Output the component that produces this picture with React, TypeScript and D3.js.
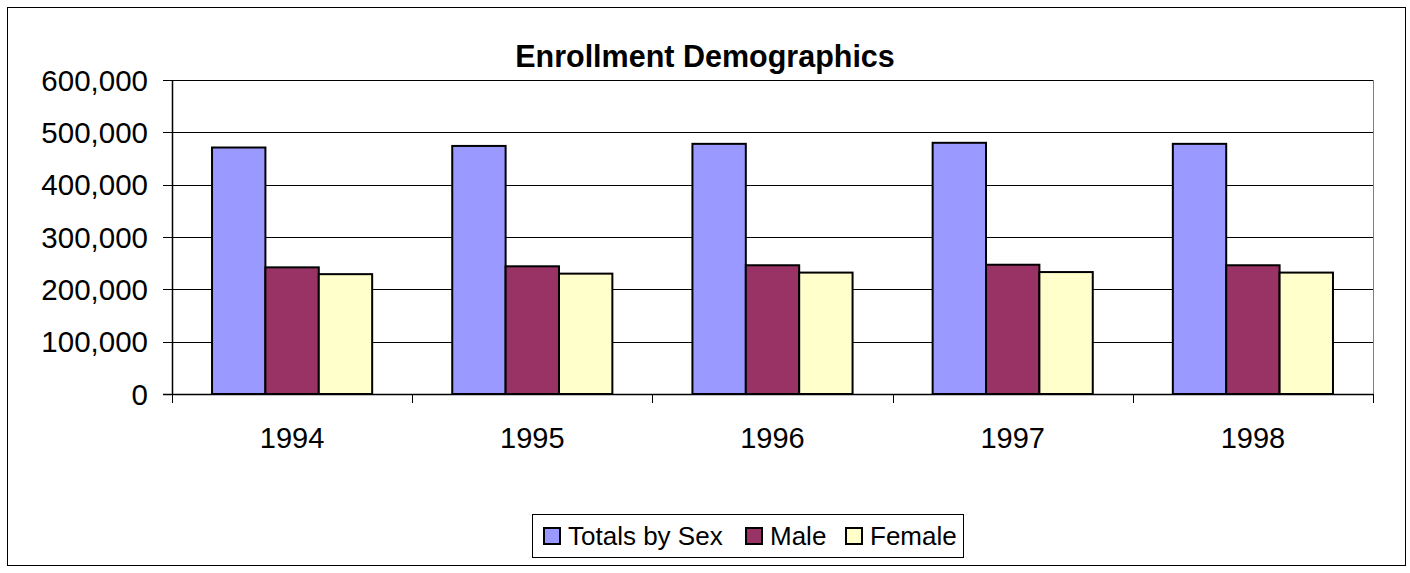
import React from 'react'
import * as d3 from 'd3'

const years = ['1994', '1995', '1996', '1997', '1998']
const seriesNames = ['Totals by Sex', 'Male', 'Female']
const totals = [471000, 474000, 478000, 480000, 478000]
const male = [242000, 244000, 246000, 247000, 246000]
const female = [229000, 230000, 232000, 233000, 232000]
const yTicks = [0, 100000, 200000, 300000, 400000, 500000, 600000]
const colors = ['#9999FF', '#993366', '#FFFFCC']

const W = 1410
const H = 573
const plot = { left: 172, right: 1373, top: 80, bottom: 394 }
const font = 'Arial, "Liberation Sans", sans-serif'

export default function App() {
  const series = [totals, male, female]

  // excel style clustered bars: gap width 150%
  const x = d3.scaleBand().domain(years).range([plot.left, plot.right]).paddingInner(0).paddingOuter(0)
  const inner = d3
    .scaleBand()
    .domain(seriesNames)
    .range([0, x.bandwidth()])
    .paddingInner(0)
    .paddingOuter(0.75)
  const y = d3.scaleLinear().domain([0, 600000]).range([plot.bottom, plot.top])
  const fmt = d3.format(',')

  const legendItems = [
    { name: seriesNames[0], x: 544 },
    { name: seriesNames[1], x: 746 },
    { name: seriesNames[2], x: 846 },
  ]

  return (
    <svg
      width={W}
      height={H}
      style={{ position: 'absolute', left: 0, top: 0, display: 'block' }}
      fontFamily={font}
    >
      <rect x={0} y={0} width={W} height={H} fill="#fff" />
      <rect x={7.5} y={7.5} width={1398} height={558} fill="none" stroke="#000" strokeWidth={1} />

      <text x={705} y={67} textAnchor="middle" fontSize={30.5} fontWeight="bold">
        Enrollment Demographics
      </text>

      {/* gridlines */}
      {yTicks.map((t) => (
        <line
          key={t}
          x1={plot.left}
          x2={plot.right}
          y1={Math.round(y(t)) + 0.5}
          y2={Math.round(y(t)) + 0.5}
          stroke="#000"
          strokeWidth={1}
        />
      ))}
      <line x1={plot.right + 0.5} x2={plot.right + 0.5} y1={plot.top} y2={plot.bottom} stroke="#808080" />

      {/* bars */}
      {series.map((vals, si) =>
        vals.map((v, i) => {
          const bx = (x(years[i]) as number) + (inner(seriesNames[si]) as number)
          return (
            <rect
              key={si + '-' + i}
              x={bx}
              y={y(v)}
              width={inner.bandwidth()}
              height={y(0) - y(v)}
              fill={colors[si]}
              stroke="#000"
              strokeWidth={2}
            />
          )
        })
      )}

      {/* y axis */}
      <line x1={plot.left + 0.5} x2={plot.left + 0.5} y1={plot.top} y2={plot.bottom + 1} stroke="#000" strokeWidth={1.5} />
      {yTicks.map((t) => (
        <g key={t}>
          <line
            x1={plot.left - 9}
            x2={plot.left}
            y1={Math.round(y(t)) + 0.5}
            y2={Math.round(y(t)) + 0.5}
            stroke="#000"
          />
          <text x={148} y={y(t)} dy="0.36em" textAnchor="end" fontSize={29.5}>
            {fmt(t)}
          </text>
        </g>
      ))}

      {/* x axis */}
      <line x1={plot.left - 9} x2={plot.right} y1={plot.bottom + 0.5} y2={plot.bottom + 0.5} stroke="#000" strokeWidth={1.5} />
      {years.map((yr, i) => (
        <g key={yr}>
          <line
            x1={Math.round((x(yr) as number) + x.bandwidth()) + 0.5}
            x2={Math.round((x(yr) as number) + x.bandwidth()) + 0.5}
            y1={plot.bottom}
            y2={plot.bottom + 9}
            stroke="#000"
          />
          {i === 0 && (
            <line x1={plot.left + 0.5} x2={plot.left + 0.5} y1={plot.bottom} y2={plot.bottom + 9} stroke="#000" />
          )}
          <text x={(x(yr) as number) + x.bandwidth() / 2} y={448} textAnchor="middle" fontSize={29}>
            {yr}
          </text>
        </g>
      ))}

      {/* legend */}
      <rect x={532.5} y={514.5} width={431} height={43} fill="#fff" stroke="#000" />
      {legendItems.map((it, i) => (
        <g key={it.name}>
          <rect x={it.x} y={528} width={16} height={16} fill={colors[i]} stroke="#000" strokeWidth={2} />
          <text x={it.x + 24} y={545} fontSize={26}>
            {it.name}
          </text>
        </g>
      ))}
    </svg>
  )
}
